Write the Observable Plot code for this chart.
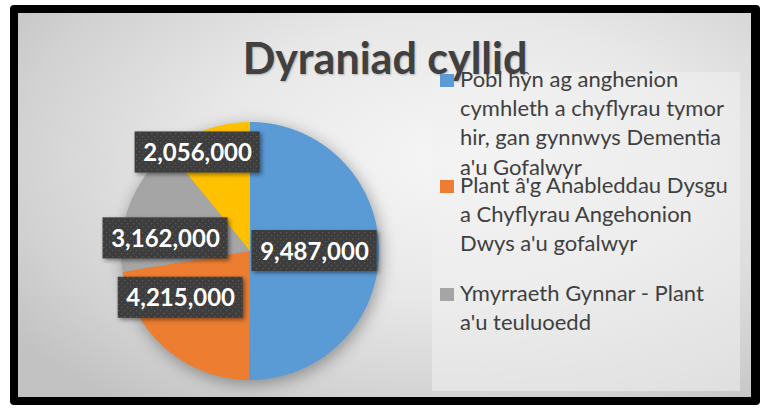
<!DOCTYPE html>
<html>
<head>
<meta charset="utf-8">
<script src="https://cdn.jsdelivr.net/npm/d3@7"></script>
<script src="https://cdn.jsdelivr.net/npm/@observablehq/plot@0.6"></script>
<style>
  html, body { margin: 0; padding: 0; background: #fff; }
  #chart { position: relative; width: 764px; height: 410px; overflow: hidden; }
  #frame { position: absolute; left: 10px; top: 5px; width: 750px; height: 400px; background: #000; border-radius: 4px; }
  #bg { position: absolute; left: 18px; top: 13px; width: 733px; height: 384px;
        background: radial-gradient(ellipse 75% 80% at 60% 38%, #f6f6f6 0%, #e8e8e8 45%, #d2d2d2 80%, #c2c2c2 100%); }
  #plot { position: absolute; left: 0; top: 0; }
  #legendBox { position: absolute; left: 432px; top: 72px; width: 308px; height: 319px; background: rgba(240,240,240,0.55); }
  #title { position: absolute; left: 0; top: 36px; width: 770px; text-align: center; font-family: Lato, sans-serif;
           font-weight: 700; font-size: 43px; line-height: 43px; color: #404040; text-shadow: 1px 1px 2px rgba(0,0,0,0.25); white-space: nowrap; }
  .leg { position: absolute; left: 460px; font-family: Lato, sans-serif; font-size: 22px; line-height: 29.3px; color: #404040; white-space: nowrap; }
  .sw { position: absolute; left: 440px; width: 14px; height: 13px; }
</style>
</head>
<body>
<div id="chart">
  <div id="frame"></div>
  <div id="bg"></div>
</div>
<script>
// ---- data ----
const title = "Dyraniad cyllid";
const categories = [
  "Pobl hŷn ag anghenion cymhleth a chyflyrau tymor hir, gan gynnwys Dementia a'u Gofalwyr",
  "Plant â'g Anableddau Dysgu a Chyflyrau Angehonion Dwys a'u gofalwyr",
  "Ymyrraeth Gynnar - Plant a'u teuluoedd",
  "Arall"
];
const values = [9487000, 4215000, 3162000, 2056000];
const colors = ["#5B9BD5", "#ED7D31", "#A5A5A5", "#FFC000"];
const legendLines = [
  ["Pobl hŷn ag anghenion", "cymhleth a chyflyrau tymor", "hir, gan gynnwys Dementia", "a'u Gofalwyr"],
  ["Plant â'g Anableddau Dysgu", "a Chyflyrau Angehonion", "Dwys a'u gofalwyr"],
  ["Ymyrraeth Gynnar - Plant", "a'u teuluoedd"]
];

// ---- layout (not data) ----
const cx = 249.5, cy = 250.5, R = 129;
const labelAngle = [90, 236, 278.5, 332];   // degrees clockwise from top (best-fit placement)
const labelRadius = [0.5, 0.648, 0.662, 0.865];
const boxW = 125, boxH = 41;
const legendBaselines = [87, 193, 301];

// ---- pie geometry via d3.pie ----
const arcs = d3.pie().sort(null).value(d => d)(values);
const poly = [];
arcs.forEach((a, i) => {
  const n = Math.max(2, Math.ceil((a.endAngle - a.startAngle) / (Math.PI / 180)));
  poly.push({name: categories[i], x: 0, y: 0});
  for (let k = 0; k <= n; k++) {
    const t = a.startAngle + (a.endAngle - a.startAngle) * k / n;
    poly.push({name: categories[i], x: Math.sin(t), y: Math.cos(t)});
  }
});

const fmt = d3.format(",");
const labels = values.map((v, i) => {
  const t = labelAngle[i] * Math.PI / 180;
  const x = labelRadius[i] * Math.sin(t), y = labelRadius[i] * Math.cos(t);
  const hw = boxW / 2 / R, hh = boxH / 2 / R;
  return {name: categories[i], text: fmt(v), x, y, x1: x - hw, x2: x + hw, y1: y - hh, y2: y + hh};
});

const plot = Plot.plot({
  width: 764,
  height: 410,
  margin: 0,
  style: {background: "transparent", overflow: "visible"},
  x: {domain: [-1, 1], range: [cx - R, cx + R], axis: null},
  y: {domain: [-1, 1], range: [cy + R, cy - R], axis: null},
  color: {domain: categories, range: colors},
  marks: [
    Plot.line(poly, {x: "x", y: "y", z: "name", fill: "name", stroke: "none"}),
    Plot.rect(labels, {x1: "x1", x2: "x2", y1: "y1", y2: "y2", fill: "#3d3d3d"}),
    Plot.rect(labels, {x1: "x1", x2: "x2", y1: "y1", y2: "y2", fill: "url(#dots)"}),
    Plot.text(labels, {x: "x", y: "y", text: "text", fill: "white", fontSize: 24, fontWeight: 700, fontFamily: "Lato, sans-serif", dy: 1})
  ]
});
plot.id = "plot";
// subtle dotted texture for label boxes
const ns = "http://www.w3.org/2000/svg";
const defs = document.createElementNS(ns, "defs");
defs.innerHTML = '<pattern id="dots" width="6" height="6" patternUnits="userSpaceOnUse"><rect x="1" y="1" width="1.3" height="1.3" fill="#585858"/><rect x="4" y="4" width="1.3" height="1.3" fill="#585858"/></pattern>';
plot.insertBefore(defs, plot.firstChild);
const chart = document.getElementById("chart");
chart.appendChild(plot);
plot.querySelectorAll('g[aria-label="line"]').forEach(g => g.style.filter = "drop-shadow(2px 4px 8px rgba(0,0,0,0.35))");
const rects = plot.querySelectorAll('g[aria-label="rect"]');
if (rects[0]) rects[0].style.filter = "drop-shadow(2px 2px 2px rgba(0,0,0,0.45))";

// legend box, title, legend entries
const lb = document.createElement("div"); lb.id = "legendBox"; chart.appendChild(lb);
const tt = document.createElement("div"); tt.id = "title"; tt.textContent = title; chart.appendChild(tt);
const fs = 22, lh = 29.3;
legendLines.forEach((lines, i) => {
  const base = legendBaselines[i];
  const sw = document.createElement("div");
  sw.className = "sw"; sw.style.top = (base - 13) + "px"; sw.style.background = colors[i];
  chart.appendChild(sw);
  const d = document.createElement("div");
  d.className = "leg";
  const baselineOffset = (lh - 1.2 * fs) / 2 + 0.987 * fs;
  d.style.top = (base - baselineOffset) + "px";
  d.innerHTML = lines.map(s => s.replace(/&/g, "&amp;").replace(/</g, "&lt;")).join("<br>");
  chart.appendChild(d);
});
</script>
</body>
</html>
